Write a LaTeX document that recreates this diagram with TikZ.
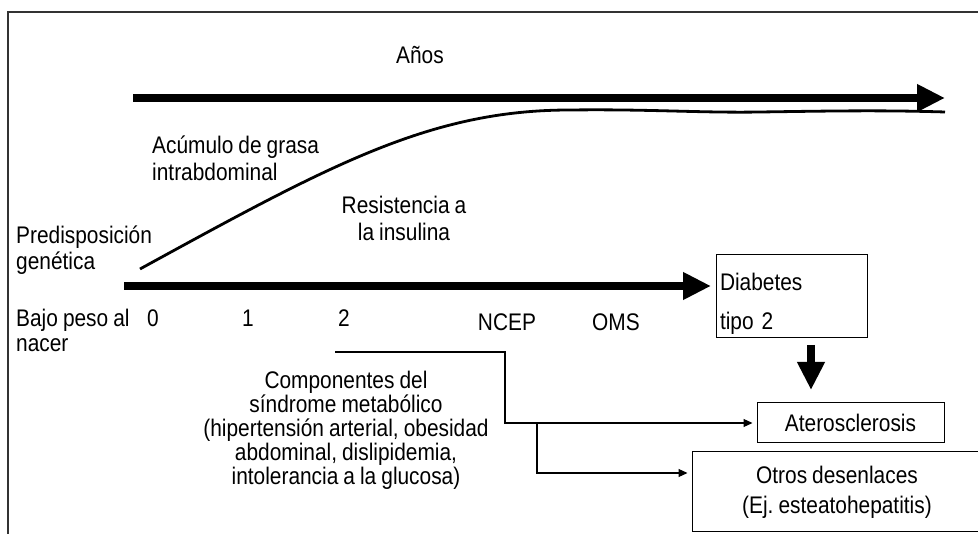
\documentclass[tikz,border=0pt]{standalone}
\usepackage{fontspec}
\setmainfont[FakeStretch=0.87,WordSpace=0.87]{Liberation Sans}
\usetikzlibrary{arrows.meta}
\begin{document}
\begin{tikzpicture}[x=1pt,y=-1pt,
  txt/.style={font=\fontsize{24}{26}\selectfont, inner sep=0pt},
  bigarrow/.style={line width=8pt, -{Triangle[length=28pt,width=26pt]}},
  thinarrow/.style={line width=1.1pt, -{Triangle[length=9pt,width=8pt]}, shorten >=4pt},
  box/.style={draw, line width=1pt, inner sep=0pt},
  frame/.style={line width=1.6pt, black!80}
]
\useasboundingbox (0,0) rectangle (978,534);
% frame
\draw[frame] (990,12) -- (8,12) -- (8,545);

% timeline arrows
\coordinate (ta1) at (133,98);
\coordinate (ta2) at (945,98);
\draw[bigarrow] (ta1) -- (ta2);
\coordinate (ba1) at (124,286);
\coordinate (ba2) at (711,286);
\draw[bigarrow] (ba1) -- (ba2);

% curve
\coordinate (cv1) at (140,269);
\coordinate (cv2) at (570,110);
\coordinate (cv3) at (945,112);
\draw[line width=2.8pt] (cv1) .. controls (330,165) and (430,110) .. (cv2)
  .. controls (650,109) and (700,113) .. (760,112)
  .. controls (830,111) and (880,110) .. (cv3);

% texts
\node[txt] (anos) at (420,55) {Años};
\node[txt, anchor=west, align=left] (predis) at (16,250) {Predisposición\\genética};
\node[txt, anchor=west, align=left, font=\fontsize{24}{27}\selectfont] (acum) at (152,158.5) {Acúmulo de grasa\\intrabdominal};
\node[txt, align=center, font=\fontsize{24}{27}\selectfont] (resist) at (404,218.5) {Resistencia a\\la insulina};
\node[txt, anchor=west, align=left, font=\fontsize{24}{25}\selectfont] (bajo) at (16,330.5) {Bajo peso al\\nacer};
\node[txt] (t0) at (153,318) {0};
\node[txt] (t1) at (248,318) {1};
\node[txt] (t2) at (344,318) {2};
\node[txt] (ncep) at (507,322) {NCEP};
\node[txt] (oms) at (616,322) {OMS};

% boxes
\node[box, txt, draw, minimum width=151pt, minimum height=83pt, align=left,
      text width=143pt, inner xsep=4pt, font=\fontsize{24}{39}\selectfont]
      (diab) at (791.5,296.5) {\rule{0pt}{31pt}Diabetes\\tipo 2};
\node[box, txt, draw, minimum width=187pt, minimum height=40pt]
      (ater) at (850.5,423) {Aterosclerosis};
\node[box, txt, draw, minimum width=290pt, minimum height=80pt, align=center,
      font=\fontsize{24}{30}\selectfont]
      (otros) at (837,492) {Otros desenlaces\\(Ej.\ esteatohepatitis)};

\node[txt, align=center, font=\fontsize{24}{24}\selectfont] (comp) at (346,430)
  {Componentes del\\síndrome metabólico\\(hipertensión arterial, obesidad\\abdominal, dislipidemia,\\intolerancia a la glucosa)};

% down arrow
\coordinate (d1) at (811,345);
\coordinate (d2) at (811,390);
\draw[bigarrow] (d1) -- (d2);

% connectors
\coordinate (c1) at (335,352);
\coordinate (c2) at (505,352);
\draw[thinarrow] (c1) -- (c2) |- (ater.west);
\coordinate (b1) at (537,423);
\coordinate (b2) at (537,473);
\draw[thinarrow] (b1) -- (b2) -- (b2 -| otros.west);
\end{tikzpicture}
\end{document}
